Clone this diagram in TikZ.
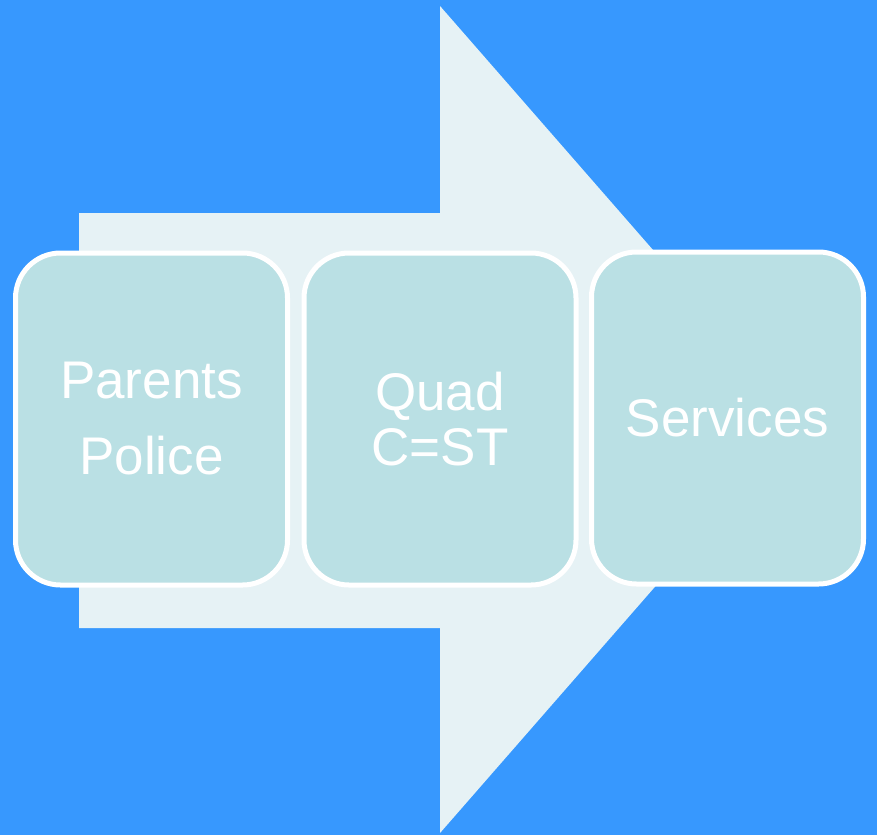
\documentclass[tikz,border=0pt]{standalone}
\usepackage{fontspec}
\setmainfont{Liberation Sans}
\usepackage{tikz}
\usetikzlibrary{positioning}

\definecolor{bgblue}{HTML}{3798FE}
\definecolor{arrowpale}{HTML}{E6F2F5}
\definecolor{boxteal}{HTML}{BAE0E4}

\tikzset{
  stagebox/.style={draw=white, line width=5pt, fill=boxteal, rounded corners=45pt,
    minimum width=272pt, minimum height=332pt, inner sep=0pt,
    text=white, align=center, font=\fontsize{53}{55}\selectfont}
}

\begin{document}
\begin{tikzpicture}[x=1pt,y=-1pt]
        % Background
        \fill[bgblue] (0,0) rectangle (877,835);
        \useasboundingbox (0,0) rectangle (877,835);
        % Draw the big arrow behind the boxes
        \fill[arrowpale] (79,213) -- (440,213) -- (440,6) -- (801,419.5)
            -- (440,833) -- (440,628) -- (79,628) -- cycle;
        % Add the three stages
        \node[stagebox] (parents) at (151.5,419) {Parents\\[21pt]Police};
        \node[stagebox] (quad) at (440,419) {Quad\\C=ST};
        \node[stagebox] (services) at (727.5,418) {Services};
    \end{tikzpicture}
\end{document}
